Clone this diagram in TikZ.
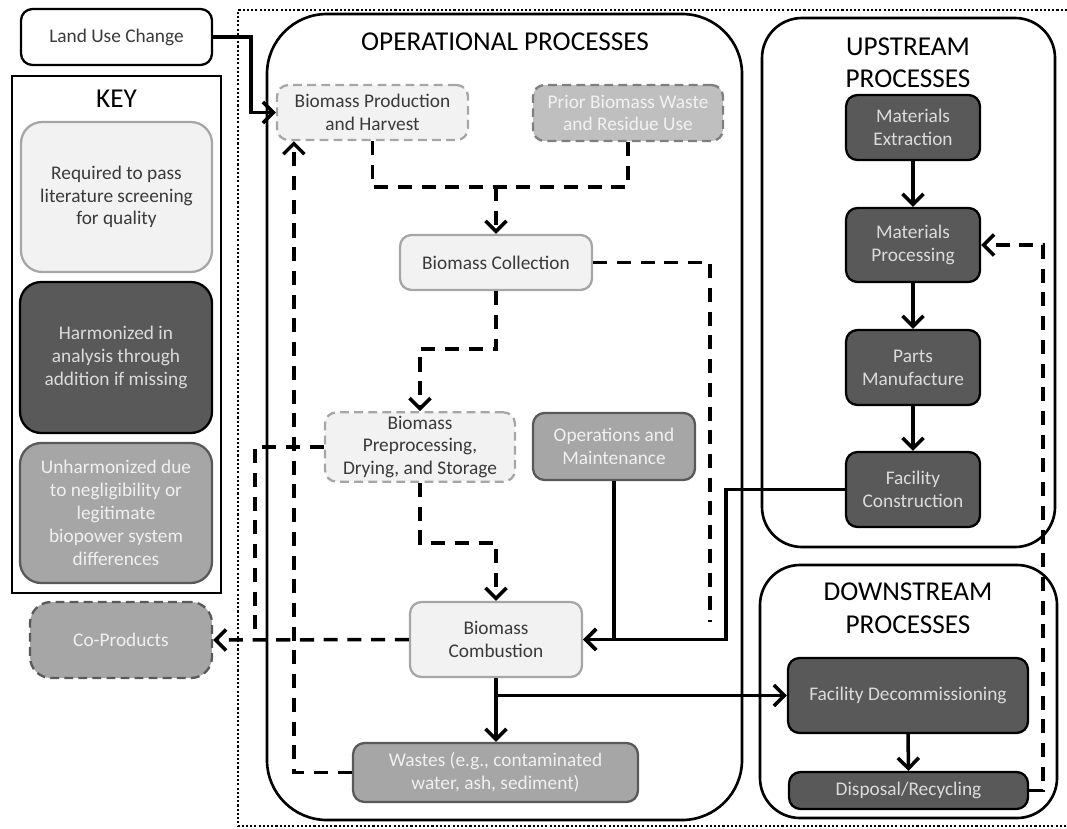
\documentclass[tikz,border=0pt]{standalone}
\usepackage{fontspec}
\setmainfont{Carlito}
\usepackage{xcolor}
\usepackage{tikz}
\usetikzlibrary{arrows.meta}

\definecolor{lightfill}{HTML}{F2F2F2}
\definecolor{lightline}{HTML}{A6A6A6}
\definecolor{darkfill}{HTML}{595959}
\definecolor{medfill}{HTML}{A6A6A6}
\definecolor{medline}{HTML}{595959}
\definecolor{priorfill}{HTML}{BFBFBF}
\definecolor{priorline}{HTML}{7F7F7F}
\definecolor{boxtext}{HTML}{3A3A3A}

\begin{document}
\begin{tikzpicture}[x=0.02cm, y=-0.02cm,
  box/.style={rounded corners=6.5pt, line width=1.3pt, align=center, font=\fontsize{11}{13}\selectfont, inner sep=2pt},
  lbox/.style={box, draw=lightline, fill=lightfill, text=boxtext},
  ldash/.style={lbox, dash pattern=on 5pt off 3pt},
  pbox/.style={box, draw=priorline, fill=priorfill, text=lightfill, dash pattern=on 5pt off 3pt},
  dbox/.style={box, draw=black, fill=darkfill, text=gray!28},
  mbox/.style={box, draw=medline, fill=medfill, text=gray!12},
  keybox/.style={box, rounded corners=12pt},
  grp/.style={draw, line width=1.5pt},
  ttl/.style={font=\fontsize{15.5}{18.5}\selectfont, align=center},
  arr/.style={-{Straight Barb[length=6pt,width=12pt]}, line width=2pt},
  dln/.style={line width=2pt, dash pattern=on 8pt off 5.5pt},
  darr/.style={arr, dln}
]
  \useasboundingbox (0,0) rectangle (1067,828);

  % Outer dotted frame and process groups
  \draw[line width=1.5pt, dash pattern=on 1.2pt off 1.2pt] (1067,10) -- (238,10) -- (238,826) -- (1067,826);
  \draw[grp, rounded corners=1.2cm] (267,14) rectangle (742,820);
  \draw[grp, rounded corners=0.8cm] (762,18) rectangle (1055,547);
  \draw[grp, rounded corners=0.8cm] (760,565) rectangle (1057,818);
  \node[ttl] (optitle) at (505,42) {OPERATIONAL PROCESSES};
  \node[ttl] (uptitle) at (908,63) {UPSTREAM\\PROCESSES};
  \node[ttl] (downtitle) at (908,608) {DOWNSTREAM\\PROCESSES};

  % Land use change and key
  \node[box, draw=black, fill=white, text=boxtext, minimum width=3.82cm, minimum height=1.12cm] (luc) at (116.5,37) {Land Use Change};
  \draw[line width=1.5pt] (12,76) rectangle (221,593);
  \node[ttl] (keytitle) at (116.5,99) {KEY};
  \node[lbox, keybox, minimum width=3.82cm, minimum height=3cm] (key1) at (116.5,197) {Required to pass\\literature screening\\for quality};
  \node[dbox, keybox, minimum width=3.84cm, minimum height=3.02cm] (key2) at (116,357.5) {Harmonized in\\analysis through\\addition if missing};
  \node[mbox, keybox, minimum width=3.84cm, minimum height=2.8cm] (key3) at (116,513) {Unharmonized due\\to negligibility or\\legitimate\\biopower system\\differences};
  \node[mbox, keybox, dash pattern=on 5pt off 3pt, minimum width=3.64cm, minimum height=1.52cm] (coprod) at (121,640) {Co-Products};

  % Operational processes
  \node[ldash, minimum width=3.82cm, minimum height=1.1cm] (prod) at (372.5,112.5) {Biomass Production\\and Harvest};
  \node[pbox, minimum width=3.8cm, minimum height=1.12cm] (prior) at (628,113) {Prior Biomass Waste\\and Residue Use};
  \node[lbox, minimum width=3.84cm, minimum height=1.1cm] (coll) at (496,262.5) {Biomass Collection};
  \node[ldash, minimum width=3.8cm, minimum height=1.36cm] (prep) at (420,447) {Biomass\\Preprocessing,\\Drying, and Storage};
  \node[mbox, minimum width=3.24cm, minimum height=1.34cm] (om) at (614,446.5) {Operations and\\Maintenance};
  \node[lbox, minimum width=3.44cm, minimum height=1.5cm] (comb) at (496,639.5) {Biomass\\Combustion};
  \node[mbox, minimum width=5.7cm, minimum height=1.18cm] (wastes) at (495.5,772.5) {Wastes (e.g., contaminated\\water, ash, sediment)};

  % Upstream processes
  \node[dbox, minimum width=2.68cm, minimum height=1.3cm] (mext) at (913,127.5) {Materials\\Extraction};
  \node[dbox, minimum width=2.68cm, minimum height=1.48cm] (mproc) at (913,245) {Materials\\Processing};
  \node[dbox, minimum width=2.68cm, minimum height=1.5cm] (parts) at (913,367.5) {Parts\\Manufacture};
  \node[dbox, minimum width=2.68cm, minimum height=1.5cm] (fcon) at (913,489.5) {Facility\\Construction};

  % Downstream processes
  \node[dbox, minimum width=4.8cm, minimum height=1.5cm] (decom) at (908,695.5) {Facility Decommissioning};
  \node[dbox, minimum width=4.78cm, minimum height=0.74cm] (disp) at (908.5,790.5) {Disposal/Recycling};

  % Solid flows
  \draw[arr] (luc.east) -- ++(38,0) |- (prod.west);
  \draw[arr] (om.south) |- (comb.east);
  \draw[arr] (fcon.west) -- ++(-119,0) |- (comb.east);
  \draw[arr] (comb.south) -- (comb.south |- wastes.north);
  \coordinate (wbranch) at (comb.south |- decom.west);
  \draw[arr] (wbranch) -- (decom.west);
  \draw[arr] (decom.south) -- (disp.north);
  \draw[arr] (mext) -- (mproc);
  \draw[arr] (mproc) -- (parts);
  \draw[arr] (parts) -- (fcon);

  % Dashed flows
  \coordinate (feed) at (496,187);
  \draw[dln] (prod.south) |- (feed) -| (prior.south);
  \draw[darr] (feed) -- (coll.north);
  \draw[darr] (coll.south) -- ++(0,58) -| (prep.north);
  \draw[darr] (prep.south) -- ++(0,60) -| (comb.north);
  \coordinate (collend) at (710,622);
  \draw[dln] (coll.east) -| (collend);
  \draw[darr] (wastes.west) -| ([xshift=0.36cm]prod.south west);
  \coordinate (prepend) at (255,639.5);
  \draw[dln] (prep.west) -| (prepend);
  \draw[darr] (comb.west) -- (coprod.east);
  \draw[darr] (disp.east) -- ++(14,0) |- (mproc.east);

\end{tikzpicture}
\end{document}
